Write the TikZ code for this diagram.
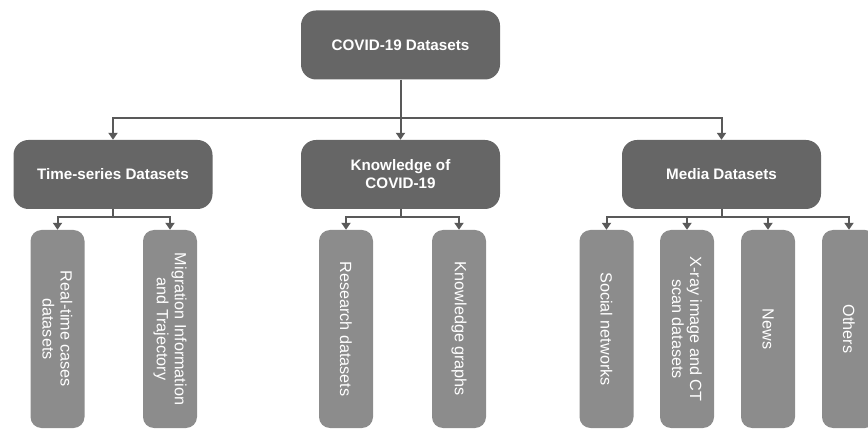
\documentclass[tikz,border=0pt]{standalone}
\usepackage{fontspec}
\setmainfont{Liberation Sans}
\usetikzlibrary{arrows.meta}
\definecolor{boxdark}{HTML}{666666}
\definecolor{boxlight}{HTML}{8C8C8C}
\definecolor{linec}{HTML}{595959}
\begin{document}
\begin{tikzpicture}[x=1pt,y=-1pt,
  topbox/.style={fill=boxdark, rounded corners=15pt, text=white, minimum width=199pt, minimum height=69pt, align=center, font=\bfseries\fontsize{15.2}{18}\selectfont, inner sep=0pt},
  leafbox/.style={fill=boxlight, rounded corners=11pt, text=white, minimum width=198pt, minimum height=54pt, align=center, rotate=-90, font=\fontsize{16.2}{18}\selectfont, inner sep=0pt},
  conn/.style={draw=linec, line width=2pt},
  arr/.style={conn, -{Triangle[width=9pt,length=7pt]}}]
\useasboundingbox (0,0) rectangle (868,430);
% top
\node[topbox] (root) at (400.5,45) {COVID-19 Datasets};
% level 2
\node[topbox] (ts) at (113,174.5) {Time-series Datasets};
\node[topbox] (kn) at (400.5,174.5) {Knowledge of\\COVID-19};
\node[topbox] (md) at (721.5,174.5) {Media Datasets};
% leaves
\node[leafbox] (l1) at (57.5,329) {Real-time cases\\datasets};
\node[leafbox] (l2) at (170,329) {Migration Information\\and Trajectory};
\node[leafbox] (l3) at (346,329) {Research datasets};
\node[leafbox] (l4) at (459,329) {Knowledge graphs};
\node[leafbox] (l5) at (606.5,329) {Social networks};
\node[leafbox] (l6) at (687,329) {X-ray image and CT\\scan datasets};
\node[leafbox] (l7) at (768,329) {News};
\node[leafbox] (l8) at (849,329) {Others};
% connectors
\coordinate (j0) at (400.5,118);
\draw[conn] (root.south) -- (j0);
\draw[arr] (j0) -| (ts.north);
\draw[arr] (j0) -| (md.north);
\draw[arr] (j0) -- (kn.north);
\coordinate (j1) at (113,217);
\coordinate (j2) at (400.5,217);
\coordinate (j3) at (721.5,217);
\draw[conn] (ts.south) -- (j1);
\draw[conn] (kn.south) -- (j2);
\draw[conn] (md.south) -- (j3);
\draw[arr] (j1) -| (l1.west);
\draw[arr] (j1) -| (l2.west);
\draw[arr] (j2) -| (l3.west);
\draw[arr] (j2) -| (l4.west);
\draw[arr] (j3) -| (l5.west);
\draw[arr] (j3) -| (l6.west);
\draw[arr] (j3) -| (l7.west);
\draw[arr] (j3) -| (l8.west);
\end{tikzpicture}
\end{document}
